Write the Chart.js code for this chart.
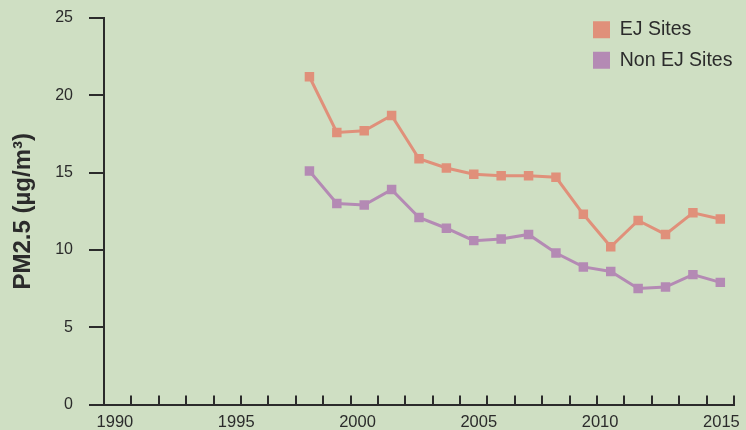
<!DOCTYPE html>
<html>
<head>
<meta charset="utf-8">
<script src="https://cdn.jsdelivr.net/npm/chart.js@4/dist/chart.umd.min.js"></script>
<style>
  html, body { margin: 0; padding: 0; background: #cfdfc3; }
  #wrap { width: 746px; height: 430px; }
</style>
</head>
<body>
<div id="wrap"><canvas id="chart" width="746" height="430"></canvas></div>
<script>
// tick-mark slots along the bottom axis (one per year)
const tickYears = ['1993', '1994', '1995', '1996', '1997', '1998', '1999', '2000', '2001', '2002', '2003', '2004',
  '2005', '2006', '2007', '2008', '2009', '2010', '2011', '2012', '2013', '2014', '2015'];
// printed year labels
const xTickLabels = [1990, 1995, 2000, 2005, 2010, 2015];
const yTickLabels = [0, 5, 10, 15, 20, 25];

const dataYears = ['2000', '2001', '2002', '2003', '2004', '2005', '2006', '2007',
  '2008', '2009', '2010', '2011', '2012', '2013', '2014', '2015'];
const ejSites = [21.2, 17.6, 17.7, 18.7, 15.9, 15.3, 14.9, 14.8, 14.8, 14.7, 12.3, 10.2, 11.9, 11.0, 12.4, 12.0];
const nonEjSites = [15.1, 13.0, 12.9, 13.9, 12.1, 11.4, 10.6, 10.7, 11.0, 9.8, 8.9, 8.6, 7.5, 7.6, 8.4, 7.9];

const ink = '#2b2b2b';
const fontFamily = "'Liberation Sans', Arial, Helvetica, sans-serif";
Chart.defaults.font.family = fontFamily;

const toPoints = vals => vals.map((v, i) => ({ x: dataYears[i], y: v }));

// put the legend in the top right corner, inside the plot
const legendSpot = {
  id: 'legendSpot',
  afterLayout(chart) {
    const lg = chart.legend;
    lg.left = 582;
    lg.right = 582 + lg.width;
    lg.top = 9;
    lg.bottom = 9 + lg.height;
  }
};

new Chart(document.getElementById('chart'), {
  type: 'line',
  data: {
    datasets: [
      {
        label: 'EJ Sites',
        data: toPoints(ejSites),
        borderColor: '#e0907a',
        backgroundColor: '#e0907a',
        borderWidth: 3,
        pointStyle: 'rect',
        pointRadius: 6.7,
        pointBorderWidth: 0,
        tension: 0
      },
      {
        label: 'Non EJ Sites',
        data: toPoints(nonEjSites),
        borderColor: '#b48ab4',
        backgroundColor: '#b48ab4',
        borderWidth: 3,
        pointStyle: 'rect',
        pointRadius: 6.7,
        pointBorderWidth: 0,
        tension: 0
      }
    ]
  },
  options: {
    responsive: false,
    animation: false,
    layout: { padding: { top: 18, right: 12, bottom: 0, left: 0 } },
    plugins: {
      tooltip: { enabled: false },
      legend: {
        position: 'chartArea',
        align: 'start',
        labels: {
          boxWidth: 17,
          boxHeight: 17,
          padding: 11,
          color: ink,
          font: { size: 19.5 },
          generateLabels: chart =>
            Chart.defaults.plugins.legend.labels.generateLabels(chart).map(l => ({ ...l, lineWidth: 0 }))
        }
      }
    },
    scales: {
      x: {
        type: 'category',
        labels: tickYears,
        position: 'bottom',
        offset: true,
        grid: { offset: true, drawOnChartArea: false, tickLength: -9, color: ink, lineWidth: 2 },
        border: { color: ink, width: 2 },
        ticks: { display: false },
        afterFit: s => { s.height = 0; s.paddingLeft = 0; s.paddingRight = 0; }
      },
      xl: {
        type: 'linear',
        position: 'bottom',
        min: 1989.55,
        max: 2015.52,
        grid: { display: false },
        border: { display: false },
        afterBuildTicks: s => { s.ticks = xTickLabels.map(v => ({ value: v })); },
        ticks: {
          color: ink,
          font: { size: 16.5 },
          padding: 0,
          maxRotation: 0,
          callback: v => String(v)
        },
        afterFit: s => { s.height = 25.5; s.paddingLeft = 0; s.paddingRight = 0; }
      },
      y: {
        min: 0,
        max: 25,
        afterBuildTicks: s => { s.ticks = yTickLabels.map(v => ({ value: v })); },
        ticks: { color: ink, font: { size: 16 }, padding: 16 },
        grid: { drawOnChartArea: false, tickLength: 15, color: ink, lineWidth: 2 },
        border: { color: ink, width: 2 },
        title: {
          display: true,
          text: 'PM2.5 (µg/m³)',
          color: ink,
          font: { size: 24, weight: 'bold' },
          padding: { top: 9, bottom: 0 }
        },
        afterFit: s => { s.width = 104; s.paddingTop = 0; s.paddingBottom = 0; }
      }
    }
  },
  plugins: [legendSpot]
});
</script>
</body>
</html>
